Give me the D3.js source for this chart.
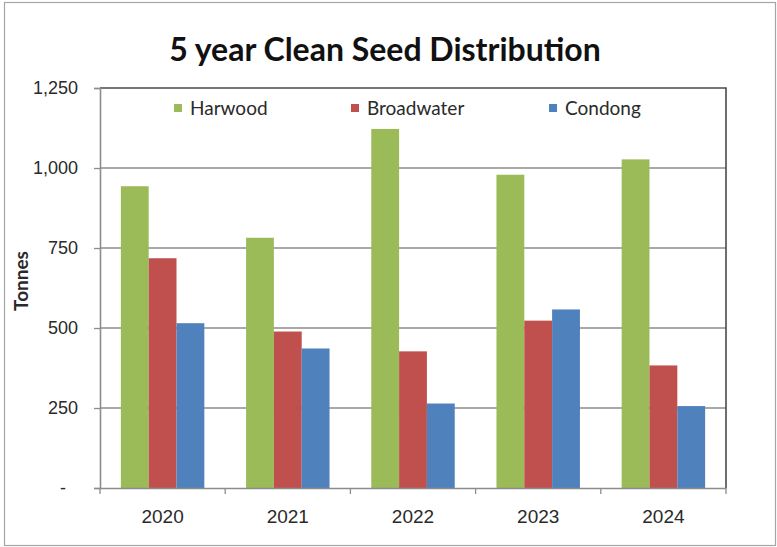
<!DOCTYPE html>
<html>
<head>
<meta charset="utf-8">
<script src="https://cdn.jsdelivr.net/npm/d3@7"></script>
<style>
  body { margin: 0; background: #fff; }
  svg { display: block; font-family: Lato, "Open Sans", sans-serif; }
</style>
</head>
<body>
<div id="chart"></div>
<script>
// data
const years = ["2020", "2021", "2022", "2023", "2024"];
const seriesNames = ["Harwood", "Broadwater", "Condong"];
const seriesColors = ["#9bbb59", "#c0504d", "#4f81bd"];
const harwood = [943, 782, 1122, 979, 1027];
const broadwater = [718, 489, 427, 523, 383];
const condong = [515, 436, 264, 558, 256];
const yTicks = [0, 250, 500, 750, 1000, 1250];

const seriesValues = [harwood, broadwater, condong];

const width = 777;
const height = 547;
const margin = { top: 88, right: 51, bottom: 59, left: 100 };
const innerW = width - margin.left - margin.right;
const innerH = height - margin.top - margin.bottom;

const svg = d3
  .select("#chart")
  .append("svg")
  .attr("width", width)
  .attr("height", height);

// outer chart frame
svg
  .append("rect")
  .attr("x", 4.5)
  .attr("y", 2.5)
  .attr("width", 771)
  .attr("height", 543)
  .attr("fill", "#fff")
  .attr("stroke", "#a6a6a6")
  .attr("stroke-width", 1.2);

// title
svg
  .append("text")
  .attr("x", 385)
  .attr("y", 61)
  .attr("text-anchor", "middle")
  .style("font-size", "32px")
  .style("font-weight", "bold")
  .attr("fill", "#111")
  .text("5 year Clean Seed Distribution");

const g = svg
  .append("g")
  .attr("transform", `translate(${margin.left},${margin.top})`);

const x0 = d3.scaleBand().domain(years).range([0, innerW]);
// Excel-style 150% gap: group takes 3 of 4.5 bar widths
const groupW = (x0.bandwidth() * 3) / 4.5;
const x1 = d3
  .scaleBand()
  .domain(seriesNames)
  .range([0, groupW]);

const y = d3.scaleLinear().domain([0, 1250]).range([innerH, 0]);

// gridlines
g.append("g")
  .selectAll("line")
  .data(yTicks.slice(1, -1))
  .join("line")
  .attr("x1", 0)
  .attr("x2", innerW)
  .attr("y1", (d) => y(d))
  .attr("y2", (d) => y(d))
  .attr("stroke", "#8c8c8c")
  .attr("stroke-width", 1.3);

// bars
const groups = g
  .selectAll(".year")
  .data(years)
  .join("g")
  .attr("class", "year")
  .attr(
    "transform",
    (d) => `translate(${x0(d) + (x0.bandwidth() - groupW) / 2},0)`
  );

groups
  .selectAll("rect")
  .data((d, i) =>
    seriesNames.map((s, k) => ({ s, k, v: seriesValues[k][i] }))
  )
  .join("rect")
  .attr("x", (d) => x1(d.s))
  .attr("y", (d) => y(d.v))
  .attr("width", x1.bandwidth())
  .attr("height", (d) => innerH - y(d.v))
  .attr("fill", (d) => seriesColors[d.k]);

// plot frame: top and right dark
g.append("path")
  .attr("d", `M0,0H${innerW}V${innerH}`)
  .attr("fill", "none")
  .attr("stroke", "#4a4a4a")
  .attr("stroke-width", 1.6);

// y axis
const yAxis = g
  .append("g")
  .call(
    d3
      .axisLeft(y)
      .tickValues(yTicks)
      .tickSize(6)
      .tickPadding(16)
      .tickFormat((d) => (d === 0 ? "-" : d3.format(",")(d)))
  );
yAxis.select(".domain").attr("stroke", "#8c8c8c").attr("stroke-width", 1.6);
yAxis.selectAll(".tick line").attr("stroke", "#8c8c8c").attr("stroke-width", 1.3);
yAxis
  .selectAll(".tick text")
  .style("font-size", "18px")
  .attr("fill", "#2a2a2a")
  .attr("x", -22);
yAxis
  .selectAll(".tick")
  .filter((d) => d === 0)
  .select("text")
  .attr("x", -34);

// x axis with ticks between categories
const xAxis = g
  .append("g")
  .attr("transform", `translate(0,${innerH})`)
  .call(d3.axisBottom(x0).tickSize(0).tickPadding(22));
xAxis.select(".domain").attr("stroke", "#8c8c8c").attr("stroke-width", 1.6);
xAxis
  .selectAll(".tick text")
  .style("font-size", "19px")
  .attr("fill", "#2a2a2a");

xAxis
  .selectAll(".sep")
  .data(years.concat(["end"]))
  .join("line")
  .attr("class", "sep")
  .attr("x1", (d, i) => i * x0.bandwidth())
  .attr("x2", (d, i) => i * x0.bandwidth())
  .attr("y1", 0)
  .attr("y2", 6)
  .attr("stroke", "#8c8c8c")
  .attr("stroke-width", 1.3);

// y label
svg
  .append("text")
  .attr("transform", "translate(28,281) rotate(-90)")
  .attr("text-anchor", "middle")
  .style("font-size", "19px")
  .style("font-weight", "bold")
  .attr("fill", "#2a2a2a")
  .text("Tonnes");

// legend inside plot
const legendX = [174, 351, 549];
const legend = svg
  .selectAll(".legend")
  .data(seriesNames)
  .join("g")
  .attr("class", "legend")
  .attr("transform", (d, i) => `translate(${legendX[i]},104)`);

legend
  .append("rect")
  .attr("width", 8)
  .attr("height", 8)
  .attr("fill", (d, i) => seriesColors[i]);

legend
  .append("text")
  .attr("x", 16)
  .attr("y", 4)
  .attr("dy", "0.35em")
  .style("font-size", "19px")
  .attr("fill", "#2a2a2a")
  .text((d) => d);
</script>
</body>
</html>
